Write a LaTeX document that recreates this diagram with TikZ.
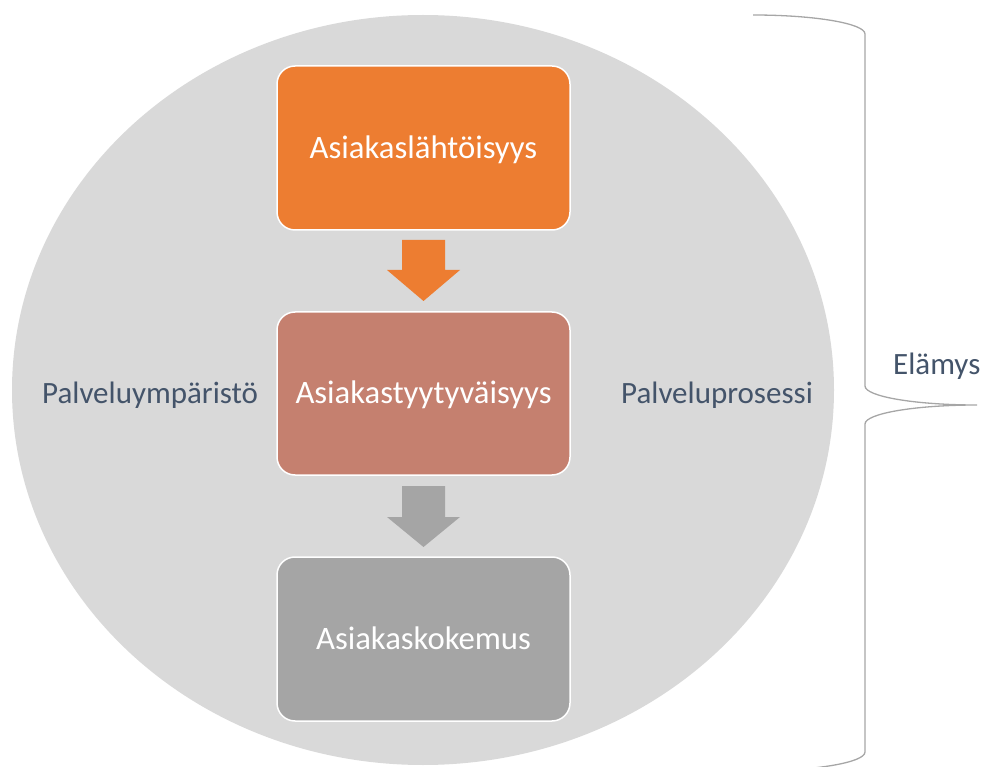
\documentclass[tikz,border=0pt]{standalone}
\usepackage{fontspec}
\setmainfont{Carlito}
\definecolor{bgcirc}{HTML}{D9D9D9}
\definecolor{orng}{HTML}{ED7D31}
\definecolor{salm}{HTML}{C5806F}
\definecolor{gry}{HTML}{A5A5A5}
\definecolor{lbl}{HTML}{44546A}
\definecolor{brc}{HTML}{A6A6A6}
\begin{document}
\begin{tikzpicture}[x=1pt,y=-1pt,
  flowbox/.style={draw=white, line width=1.5pt, rounded corners=18pt,
    minimum width=293pt, minimum height=164pt, inner sep=0pt,
    text=white, text height=21pt, text depth=0pt,
    font=\fontsize{32.7}{39}\selectfont},
  sidelabel/.style={text=lbl, inner sep=0pt, anchor=base west,
    font=\fontsize{31}{37}\selectfont}]
\useasboundingbox (0,0) rectangle (986,767);
\clip (0,0) rectangle (986,767);
% background ellipse
\fill[bgcirc] (423,390) ellipse [x radius=411pt, y radius=375pt];
% boxes
\node[flowbox, fill=orng] (b1) at (423.5,148) {Asiakaslähtöisyys};
\node[flowbox, fill=salm, minimum height=163pt] (b2) at (423.5,393.5) {Asiakastyytyväisyys};
\node[flowbox, fill=gry] (b3) at (423.5,639) {Asiakaskokemus};
% block arrows
\fill[orng] (402,240) -- (445,240) -- (445,270) -- (460,270) -- (423.5,301) -- (387,270) -- (402,270) -- cycle;
\fill[gry] (402,486) -- (445,486) -- (445,517) -- (460,517) -- (423.5,547) -- (387,517) -- (402,517) -- cycle;
% side labels
\node[sidelabel] (env) at (42,403) {Palveluympäristö};
\node[sidelabel] (proc) at (621,403) {Palveluprosessi};
\node[sidelabel] (exp) at (893,375) {Elämys};
% brace
\draw[brc, line width=1.3pt]
  (753,15) .. controls (814.9,15) and (865,23.5) .. (865,34)
  -- (865,386) .. controls (865,396.5) and (915.1,405) .. (977,405)
  .. controls (915.1,405) and (865,413.5) .. (865,424)
  -- (865,752) .. controls (865,762.5) and (814.9,771) .. (753,771);
\end{tikzpicture}
\end{document}
